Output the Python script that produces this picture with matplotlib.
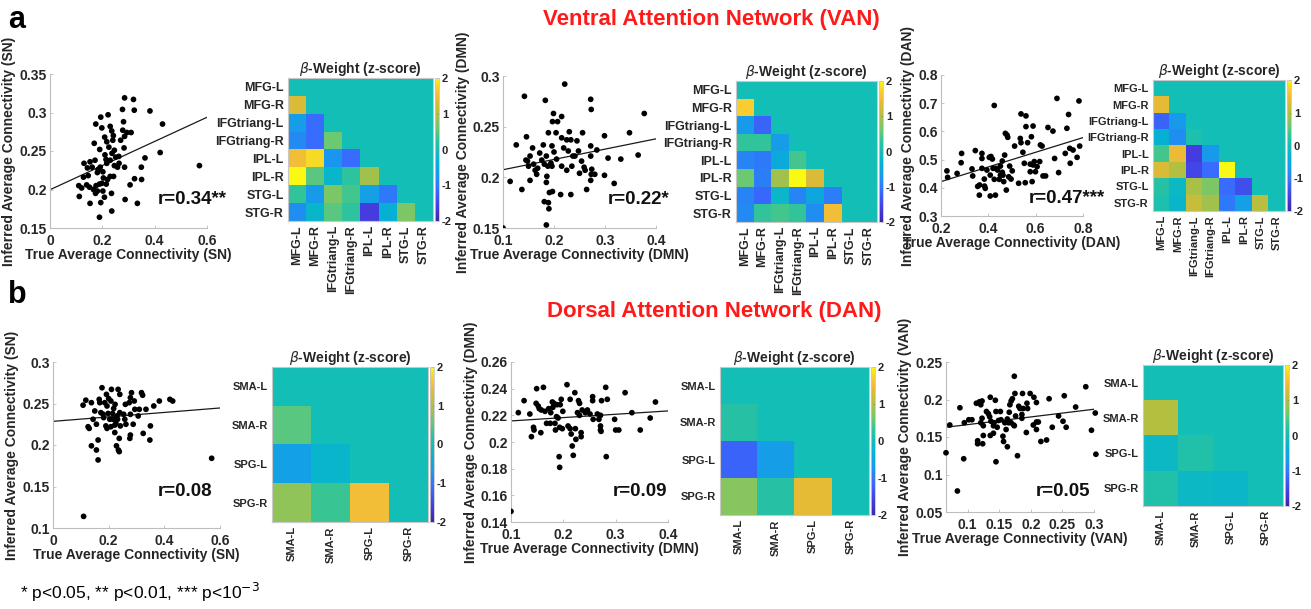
import numpy as np
import matplotlib
matplotlib.use('Agg')
import matplotlib.pyplot as plt
from matplotlib.colors import LinearSegmentedColormap

plt.rcParams['font.family'] = ['Liberation Sans', 'DejaVu Sans']
plt.rcParams['mathtext.fontset'] = 'dejavusans'

W, H = 1311, 609

# ---------------- data ----------------
van_regions = ['MFG-L', 'MFG-R', 'IFGtriang-L', 'IFGtriang-R', 'IPL-L', 'IPL-R', 'STG-L', 'STG-R']
dan_regions = ['SMA-L', 'SMA-R', 'SPG-L', 'SPG-R']

# (true, inferred) points
van_sn_points = [(.285,.319),(.319,.317),(.277,.304),(.322,.303),(.382,.302),(.430,.285),(.194,.294),(.222,.297),
    (.175,.285),(.281,.288),(.198,.280),(.230,.282),(.236,.276),(.278,.277),(.294,.274),(.310,.274),(.285,.269),
    (.209,.268),(.217,.262),(.242,.270),(.270,.264),(.169,.260),(.190,.252),(.225,.255),(.283,.254),(.210,.245),
    (.237,.247),(.246,.251),(.251,.242),(.214,.239),(.230,.238),(.363,.241),(.421,.248),(.571,.231),(.130,.234),
    (.153,.236),(.172,.238),(.264,.234),(.285,.229),(.349,.229),(.258,.229),(.143,.228),(.161,.229),(.192,.229),
    (.202,.223),(.181,.222),(.128,.216),(.146,.218),(.230,.217),(.204,.215),(.220,.213),(.323,.214),(.350,.213),
    (.110,.205),(.121,.202),(.140,.206),(.151,.203),(.176,.205),(.189,.207),(.198,.208),(.215,.207),(.306,.206),
    (.166,.200),(.181,.198),(.202,.198),(.174,.195),(.235,.195),(.112,.191),(.208,.190),(.153,.182),(.194,.183),
    (.287,.187),(.334,.182),(.236,.172),(.189,.164),(.246,.231),(.243,.217),(.184,.226),(.217,.234),(.263,.243),
    (.240,.264)]
van_dmn_points = [(.100,.150),(.114,.196),(.126,.232),(.137,.188),(.142,.280),(.146,.240),(.145,.217),(.148,.216),
    (.153,.221),(.150,.211),(.158,.229),(.160,.213),(.163,.207),(.166,.203),(.168,.209),(.153,.197),(.172,.224),
    (.176,.217),(.179,.232),(.181,.213),(.183,.276),(.185,.221),(.186,.201),(.185,.195),(.189,.244),(.188,.211),
    (.191,.185),(.194,.214),(.196,.211),(.197,.255),(.199,.263),(.200,.225),(.197,.186),(.189,.175),(.181,.176),
    (.190,.169),(.185,.153),(.204,.244),(.207,.255),(.215,.260),(.215,.239),(.219,.229),(.215,.211),(.213,.183),
    (.221,.292),(.225,.237),(.228,.226),(.230,.245),(.233,.237),(.235,.211),(.225,.207),(.233,.183),(.237,.221),
    (.241,.221),(.248,.226),(.254,.216),(.256,.244),(.259,.210),(.261,.207),(.264,.188),(.250,.204),(.272,.277),
    (.273,.267),(.272,.231),(.272,.221),(.274,.208),(.273,.203),(.272,.197),(.280,.203),(.284,.227),(.299,.241),
    (.299,.202),(.306,.219),(.318,.194),(.331,.218),(.348,.244),(.365,.222),(.377,.263),(.205,.218),(.245,.236),
    (.196,.231)]
van_dan_points = [(.225,.460),(.228,.437),(.268,.451),(.285,.489),(.287,.522),(.331,.467),(.334,.442),(.345,.532),
    (.355,.405),(.363,.410),(.362,.374),(.373,.522),(.373,.504),(.373,.469),(.383,.431),(.384,.406),(.387,.398),
    (.394,.463),(.404,.508),(.408,.445),(.408,.371),(.411,.511),(.417,.502),(.420,.469),(.425,.692),(.425,.430),
    (.431,.469),(.430,.374),(.439,.463),(.446,.430),(.451,.477),(.459,.495),(.459,.455),(.465,.422),(.469,.516),
    (.462,.445),(.472,.593),(.479,.587),(.482,.579),(.476,.392),(.490,.477),(.486,.439),(.496,.431),(.501,.460),
    (.511,.548),(.528,.416),(.535,.575),(.538,.560),(.538,.662),(.546,.526),(.552,.487),(.556,.418),(.559,.655),
    (.559,.617),(.566,.560),(.577,.484),(.577,.457),(.585,.422),(.582,.581),(.589,.619),(.589,.481),(.594,.493),
    (.599,.457),(.606,.475),(.617,.493),(.620,.552),(.627,.548),(.631,.442),(.642,.442),(.652,.614),(.673,.601),
    (.680,.504),(.690,.717),(.697,.454),(.725,.522),(.732,.611),(.739,.660),(.746,.487),(.744,.540),(.758,.534),
    (.775,.508),(.786,.548),(.783,.708),(.451,.445)]
dan_sn_points = [(.110,.114),(.570,.184),(.108,.248),(.118,.254),(.126,.222),(.130,.220),(.138,.251),(.138,.199),
    (.144,.231),(.150,.241),(.156,.225),(.156,.194),(.162,.206),(.162,.182),(.166,.255),(.168,.251),(.172,.239),
    (.176,.269),(.180,.237),(.182,.233),(.186,.251),(.190,.223),(.192,.261),(.194,.247),(.194,.220),(.198,.238),
    (.200,.256),(.204,.231),(.208,.253),(.208,.222),(.210,.267),(.214,.238),(.216,.231),(.218,.244),(.222,.215),
    (.223,.249),(.226,.226),(.228,.199),(.230,.235),(.232,.231),(.234,.267),(.235,.194),(.238,.208),(.240,.261),
    (.242,.223),(.238,.192),(.240,.239),(.254,.237),(.258,.231),(.262,.225),(.260,.249),(.274,.251),(.278,.237),
    (.278,.257),(.282,.263),(.278,.212),(.276,.208),(.288,.225),(.292,.253),(.294,.243),(.306,.235),(.310,.243),
    (.318,.263),(.322,.260),(.324,.214),(.334,.243),(.348,.206),(.350,.223),(.362,.247),(.382,.253),(.420,.255),
    (.430,.253),(.222,.224)]
dan_dmn_points = [(.100,.148),(.114,.222),(.125,.231),(.136,.221),(.139,.204),(.143,.211),(.144,.209),(.149,.240),
    (.148,.229),(.152,.227),(.154,.225),(.157,.207),(.158,.224),(.162,.241),(.165,.223),(.168,.214),(.172,.225),
    (.175,.214),(.176,.222),(.179,.230),(.182,.229),(.184,.214),(.185,.209),(.187,.219),(.188,.228),(.190,.218),
    (.192,.189),(.193,.181),(.193,.211),(.194,.228),(.196,.232),(.198,.210),(.207,.243),(.209,.212),(.213,.210),
    (.215,.206),(.217,.197),(.213,.232),(.219,.190),(.222,.237),(.224,.202),(.223,.210),(.227,.222),(.229,.231),
    (.231,.229),(.231,.220),(.234,.204),(.234,.207),(.236,.224),(.242,.222),(.246,.224),(.251,.221),(.256,.234),
    (.257,.217),(.256,.231),(.265,.221),(.268,.217),(.271,.220),(.271,.212),(.271,.209),(.273,.231),(.272,.208),
    (.281,.241),(.282,.189),(.284,.232),(.298,.217),(.300,.209),(.306,.209),(.318,.237),(.331,.222),(.347,.209),
    (.366,.218),(.376,.230),(.199,.223),(.180,.226)]
dan_van_points = [(.066,.129),(.072,.166),(.084,.078),(.088,.189),(.094,.121),(.095,.169),(.102,.173),(.107,.173),
    (.114,.195),(.116,.145),(.116,.141),(.119,.197),(.121,.193),(.121,.169),(.123,.198),(.123,.175),(.124,.141),
    (.125,.152),(.125,.165),(.130,.184),(.133,.181),(.135,.177),(.136,.203),(.136,.152),(.137,.171),(.141,.165),
    (.141,.155),(.142,.169),(.144,.199),(.145,.117),(.145,.184),(.147,.163),(.149,.172),(.152,.184),(.153,.173),
    (.156,.151),(.157,.144),(.159,.169),(.161,.160),(.163,.137),(.163,.174),(.166,.183),(.167,.193),(.169,.198),
    (.169,.169),(.171,.201),(.173,.166),(.174,.231),(.174,.165),(.175,.208),(.176,.178),(.179,.125),(.181,.191),
    (.183,.188),(.186,.180),(.186,.175),(.187,.208),(.188,.188),(.194,.195),(.193,.156),(.195,.188),(.199,.208),
    (.204,.166),(.205,.203),(.209,.196),(.209,.170),(.209,.160),(.212,.170),(.216,.144),(.225,.146),(.229,.201),
    (.234,.163),(.244,.178),(.251,.171),(.253,.205),(.256,.163),(.271,.190),(.287,.217),(.296,.159),(.302,.182),
    (.303,.127),(.165,.169)]

# fitted regression lines: (x_start, y_start, x_end, y_end)
fit_lines = [(0.0, .1997, 0.6, .2938), (0.1, .2075, 0.4, .2380), (0.2, .422, 0.8, .578),
             (0.0, .2285, 0.6, .2446), (0.1, .2158, 0.4, .2233), (0.066, .163, 0.3, .187)]
r_labels = ['r=0.34**', 'r=0.22*', 'r=0.47***', 'r=0.08', 'r=0.09', 'r=0.05']
x_labels = ['True Average Connectivity (SN)', 'True Average Connectivity (DMN)', 'True Average Connectivity (DAN)',
            'True Average Connectivity (SN)', 'True Average Connectivity (DMN)', 'True Average Connectivity (VAN)']
y_labels = ['Inferred Average Connectivity (SN)', 'Inferred Average Connectivity (DMN)', 'Inferred Average Connectivity (DAN)',
            'Inferred Average Connectivity (SN)', 'Inferred Average Connectivity (DMN)', 'Inferred Average Connectivity (VAN)']
x_ticks = [[0, .2, .4, .6], [.1, .2, .3, .4], [.2, .4, .6, .8], [0, .2, .4, .6], [.1, .2, .3, .4], [.1, .15, .2, .25, .3]]
x_ticklabels = [['0', '0.2', '0.4', '0.6'], ['0.1', '0.2', '0.3', '0.4'], ['0.2', '0.4', '0.6', '0.8'],
                ['0', '0.2', '0.4', '0.6'], ['0.1', '0.2', '0.3', '0.4'], ['0.1', '0.15', '0.2', '0.25', '0.3']]
y_ticks = [[.15, .2, .25, .3, .35], [.15, .2, .25, .3], [.3, .4, .5, .6, .7, .8], [.1, .15, .2, .25, .3],
           [.14, .16, .18, .2, .22, .24, .26], [.05, .1, .15, .2, .25]]
y_ticklabels = [['0.15', '0.2', '0.25', '0.3', '0.35'], ['0.15', '0.2', '0.25', '0.3'],
                ['0.3', '0.4', '0.5', '0.6', '0.7', '0.8'], ['0.1', '0.15', '0.2', '0.25', '0.3'],
                ['0.14', '0.16', '0.18', '0.2', '0.22', '0.24', '0.26'], ['0.05', '0.1', '0.15', '0.2', '0.25']]
x_limits = [(0, .6), (.1, .4), (.2, .8), (0, .6), (.1, .4), (.066, .3)]
y_limits = [(.15, .35), (.15, .3), (.3, .8), (.1, .3), (.14, .26), (.05, .25)]

beta_van_sn = [[0, 0, 0, 0, 0, 0, 0, 0],
               [1.3, 0, 0, 0, 0, 0, 0, 0],
               [-0.65, -1.1, 0, 0, 0, 0, 0, 0],
               [-0.85, -1.1, 0.6, 0, 0, 0, 0, 0],
               [1.5, 1.8, -0.75, -1.1, 0, 0, 0, 0],
               [2.0, 0.5, -0.25, 0.25, 0.9, 0, 0, 0],
               [0.3, -0.7, 0.7, 0.4, -0.6, -1.0, 0, 0],
               [-0.8, -0.25, 0.5, 0.25, -1.6, -0.35, 0.7, 0]]
beta_van_dmn = [[0, 0, 0, 0, 0, 0, 0, 0],
                [1.7, 0, 0, 0, 0, 0, 0, 0],
                [-0.7, -1.2, 0, 0, 0, 0, 0, 0],
                [0.3, 0.3, -0.65, 0, 0, 0, 0, 0],
                [-0.9, -1.0, -0.45, 0.4, 0, 0, 0, 0],
                [0.6, -0.95, 0.9, 2.0, 1.3, 0, 0, 0],
                [-0.9, -1.15, -0.2, -0.9, -0.5, -0.95, 0, 0],
                [-0.85, 0.3, 0.4, 0.3, -0.8, 1.5, 0, 0]]
beta_van_dan = [[0, 0, 0, 0, 0, 0, 0, 0],
                [1.4, 0, 0, 0, 0, 0, 0, 0],
                [-1.2, -0.7, 0, 0, 0, 0, 0, 0],
                [-0.35, -0.8, 0.1, 0, 0, 0, 0, 0],
                [0.4, 1.45, -1.6, -0.7, 0, 0, 0, 0],
                [1.3, 1.0, -1.5, -1.1, 2.0, 0, 0, 0],
                [0.2, -0.15, 0.95, 0.7, -1.1, -1.4, 0, 0],
                [0.1, -0.25, 1.15, 0.9, -1.0, -0.6, 1.05, 0]]
beta_dan_sn = [[0, 0, 0, 0], [0.5, 0, 0, 0], [-0.6, -0.25, 0, 0], [0.8, 0.35, 1.5, 0]]
beta_dan_dmn = [[0, 0, 0, 0], [0.2, 0, 0, 0], [-1.2, -0.65, 0, 0], [0.75, 0.2, 1.4, 0]]
beta_dan_van = [[0, 0, 0, 0], [1.0, 0, 0, 0], [-0.15, 0.15, 0, 0], [0.15, -0.15, -0.2, 0]]

# parula-like colormap
parula_anchors = [(0.00, (0.24, 0.15, 0.66)), (0.10, (0.27, 0.24, 0.88)), (0.22, (0.22, 0.42, 1.00)),
                  (0.32, (0.10, 0.60, 0.93)), (0.42, (0.02, 0.70, 0.82)), (0.50, (0.07, 0.745, 0.72)),
                  (0.58, (0.20, 0.77, 0.60)), (0.65, (0.42, 0.79, 0.45)), (0.75, (0.70, 0.75, 0.25)),
                  (0.85, (0.90, 0.73, 0.21)), (0.90, (0.99, 0.75, 0.22)), (0.95, (0.97, 0.85, 0.15)),
                  (1.00, (0.98, 0.98, 0.08))]
parula = LinearSegmentedColormap.from_list('parula', parula_anchors)

# ---------------- layout (pixels: left, top, right, bottom) ----------------
scatter_boxes = [(50, 74, 207, 228), (503, 76, 656, 228), (941, 75, 1083, 216),
                 (53, 362, 220, 528), (511, 362, 668, 522), (946, 362, 1094, 512)]
r_pos = [(158, 200), (608, 200), (1029, 198), (158, 492), (613, 492), (1036, 492)]
heat_boxes = [(288, 78, 433, 221), (736, 81, 877, 222), (1153, 80, 1285, 211),
              (272, 367, 428, 522), (720, 367, 869, 515), (1143, 365, 1283, 506)]
cbar_boxes = [(435, 78, 439, 221), (879, 81, 883, 222), (1287, 80, 1291, 211),
              (430, 367, 434, 522), (871, 367, 875, 515), (1285, 365, 1289, 506)]
heat_fontsizes = [9, 9, 8, 8, 8, 8]

fig = plt.figure(figsize=(W / 100, H / 100), dpi=100)


def px_axes(box):
    l, t, r, b = box
    return fig.add_axes([l / W, 1 - b / H, (r - l) / W, (b - t) / H])


txt_col = '#262626'
spine_col = '#bdbdbd'

scatters = [van_sn_points, van_dmn_points, van_dan_points, dan_sn_points, dan_dmn_points, dan_van_points]
for i, pts in enumerate(scatters):
    ax = px_axes(scatter_boxes[i])
    xs = [p[0] for p in pts]
    ys = [p[1] for p in pts]
    ax.scatter(xs, ys, s=17, color='black', edgecolors='none', zorder=3, clip_on=(i != 5))
    x0, y0, x1, y1 = fit_lines[i]
    ax.plot([x0, x1], [y0, y1], color='#1a1a1a', lw=0.9, zorder=2)
    ax.set_xlim(*x_limits[i])
    ax.set_ylim(*y_limits[i])
    ax.set_xticks(x_ticks[i])
    ax.set_xticklabels(x_ticklabels[i])
    ax.set_yticks(y_ticks[i])
    ax.set_yticklabels(y_ticklabels[i])
    for s in ['top', 'right']:
        ax.spines[s].set_visible(False)
    for s in ['left', 'bottom']:
        ax.spines[s].set_color(spine_col)
        ax.spines[s].set_linewidth(0.8)
    ax.tick_params(direction='in', length=2.5, width=0.6, color=spine_col, labelsize=10,
                   labelcolor=txt_col)
    ax.tick_params(axis='x', pad=4.5)
    ax.tick_params(axis='y', pad=2.5)
    for lab in ax.get_xticklabels() + ax.get_yticklabels():
        lab.set_fontweight('bold')
    ax.set_xlabel(x_labels[i], fontsize=10, fontweight='bold', color=txt_col, labelpad=0)
    ax.set_ylabel(y_labels[i], fontsize=10, fontweight='bold', color=txt_col, labelpad=2)
    fig.text(r_pos[i][0] / W, 1 - r_pos[i][1] / H, r_labels[i], fontsize=13.5, fontweight='bold',
             color='#111111', ha='left', va='center')

heats = [beta_van_sn, beta_van_dmn, beta_van_dan, beta_dan_sn, beta_dan_dmn, beta_dan_van]
for i, mat in enumerate(heats):
    ax = px_axes(heat_boxes[i])
    m = np.array(mat, dtype=float)
    labels = van_regions if i < 3 else dan_regions
    im = ax.imshow(m, cmap=parula, vmin=-2, vmax=2, aspect='auto', interpolation='nearest')
    ax.set_xticks(range(len(labels)))
    ax.set_yticks(range(len(labels)))
    fs = heat_fontsizes[i]
    ax.set_xticklabels(labels, rotation=90, fontsize=fs, fontweight='bold', color=txt_col)
    ax.set_yticklabels(labels, fontsize=fs, fontweight='bold', color=txt_col)
    ax.tick_params(length=0, pad=3)
    for s in ax.spines.values():
        s.set_color('#c8c8c8')
        s.set_linewidth(0.8)
    ax.set_title(r'$\beta$-Weight (z-score)', fontsize=10, fontweight='bold', color=txt_col, pad=3)
    cax = px_axes(cbar_boxes[i])
    cb = fig.colorbar(im, cax=cax, ticks=[-2, -1, 0, 1, 2])
    cb.outline.set_edgecolor('#c8c8c8')
    cb.outline.set_linewidth(0.6)
    cax.tick_params(direction='in', length=1.5, width=0.5, color='#888888', labelsize=8, pad=2,
                    labelcolor=txt_col)
    cax.set_yticklabels(['-2', '-1', '0', '1', '2'])
    for lab in cax.get_yticklabels():
        lab.set_fontweight('bold')

fig.text(711 / W, 1 - 20 / H, 'Ventral Attention Network (VAN)', fontsize=16, fontweight='bold',
         color='#ff1a1a', ha='center', va='center')
fig.text(714 / W, 1 - 312 / H, 'Dorsal Attention Network (DAN)', fontsize=16, fontweight='bold',
         color='#ff1a1a', ha='center', va='center')
fig.text(8 / W, 1 - 20 / H, 'a', fontsize=22, fontweight='bold', color='black', ha='left', va='center')
fig.text(8 / W, 1 - 295 / H, 'b', fontsize=22, fontweight='bold', color='black', ha='left', va='center')
fig.text(20 / W, 1 - 592 / H, r'* p<0.05, ** p<0.01, *** p<10$^{-3}$', fontsize=12.5, color='black',
         ha='left', va='center')

fig.savefig('out.png', dpi=100, facecolor='white')
